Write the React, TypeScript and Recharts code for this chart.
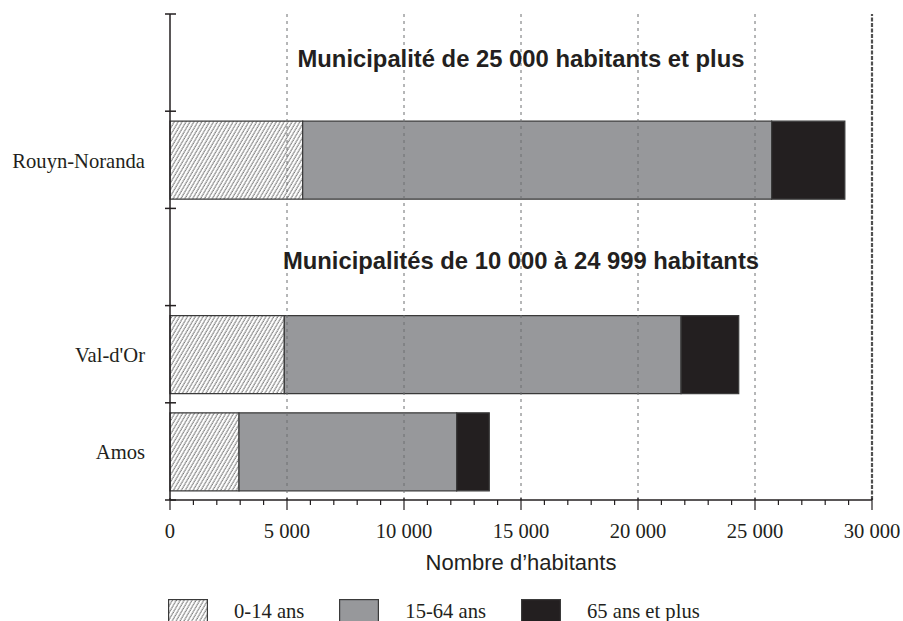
import React from 'react';
import { BarChart, Bar, XAxis, YAxis, ReferenceLine } from 'recharts';

// rows top to bottom; the two group rows only carry a title
const categories = ['grp25', 'Rouyn-Noranda', 'grp10', "Val-d'Or", 'Amos'];
const age0to14 = [null, 5670, null, 4885, 2950];
const age15to64 = [null, 20040, null, 16955, 9300];
const age65plus = [null, 3130, null, 2465, 1395];

const groupKeys = ['grp25', 'grp10'];
const groupTitles = ['Municipalité de 25 000 habitants et plus', 'Municipalités de 10 000 à 24 999 habitants'];
const groupShift = [-4, 4];

const xMajorTicks = [0, 5000, 10000, 15000, 20000, 25000, 30000];
const xAllTicks = Array.from({ length: 31 }, (_, i) => i * 1000);

const legendItems = [
  { name: '0-14 ans', fill: 'pattern' },
  { name: '15-64 ans', fill: '#97989b' },
  { name: '65 ans et plus', fill: '#231f20' },
];

const rows = categories.map((name, i) => ({
  name,
  a: age0to14[i],
  b: age15to64[i],
  c: age65plus[i],
}));

const INK = '#231f20';
const SERIF = '"Liberation Serif", "Times New Roman", serif';
const SANS = '"Liberation Sans", Arial, sans-serif';

const fmt = (v: number) => String(v).replace(/\B(?=(\d{3})+(?!\d))/g, ' ');

const YTick = (props: any) => {
  const { x, y, payload } = props;
  const half = payload.offset ?? 48.6;
  const isLast = payload.index === categories.length - 1;
  const isGroup = groupKeys.includes(payload.value);
  return (
    <g>
      <line x1={x - 5} x2={x + 6} y1={y - half} y2={y - half} stroke={INK} strokeWidth={1.5} />
      {isLast && <line x1={x - 5} x2={x + 6} y1={y + half} y2={y + half} stroke={INK} strokeWidth={1.5} />}
      {!isGroup && (
        <text x={x - 25} y={y + 8} textAnchor="end" fontFamily={SERIF} fontSize={20.6} fill={INK}>
          {payload.value}
        </text>
      )}
    </g>
  );
};

const XTick = (props: any) => {
  const { x, y, payload } = props;
  const major = payload.value % 5000 === 0;
  return (
    <g>
      <line x1={x} x2={x} y1={y - (major ? 2 : 0)} y2={y + (major ? 10 : 5)} stroke={INK} strokeWidth={1.2} />
      {major && (
        <text x={x} y={y + 38} textAnchor="middle" fontFamily={SERIF} fontSize={20.6} fill={INK}>
          {fmt(payload.value)}
        </text>
      )}
    </g>
  );
};

const Hatch = ({ id }: { id: string }) => (
  <pattern id={id} patternUnits="userSpaceOnUse" width={3.4} height={3.4} patternTransform="rotate(30)">
    <rect width={3.4} height={3.4} fill="#ffffff" />
    <line x1={1} y1={0} x2={1} y2={3.4} stroke="#4f4f4f" strokeWidth={1} strokeDasharray="1.2 0.5" />
  </pattern>
);

export default function App() {
  return (
    <div style={{ position: 'absolute', left: 0, top: 0, width: 903, height: 621, background: '#fff' }}>
      <BarChart
        layout="vertical"
        width={903}
        height={621}
        data={rows}
        margin={{ top: 14, right: 31, bottom: 51, left: 0 }}
      >
        <defs>
          <Hatch id="hatch" />
        </defs>
        {xMajorTicks.slice(1, -1).map((v) => (
          <ReferenceLine key={v} x={v} stroke="#6d6e71" strokeDasharray="3 4" strokeWidth={1} />
        ))}
        <XAxis
          type="number"
          domain={[0, 30000]}
          ticks={xAllTicks}
          interval={0}
          tickSize={0}
          tickMargin={0}
          tick={<XTick />}
          axisLine={{ stroke: INK, strokeWidth: 1.5 }}
          height={70}
          label={{ value: 'Nombre d’habitants', position: 'insideBottom', offset: 0, fontFamily: SANS, fontSize: 22, fill: INK }}
        />
        <XAxis
          xAxisId="top"
          orientation="top"
          type="number"
          domain={[0, 30000]}
          height={0}
          tick={false}
          tickLine={false}
          axisLine={{ stroke: INK, strokeWidth: 1.5 }}
        />
        <YAxis
          type="category"
          dataKey="name"
          width={170}
          interval={0}
          tickSize={0}
          tickMargin={0}
          tick={<YTick />}
          axisLine={{ stroke: INK, strokeWidth: 1.5 }}
        />
        {groupKeys.map((k, i) => (
          <ReferenceLine
            key={k}
            y={k}
            stroke="none"
            label={{
              value: groupTitles[i],
              position: 'center',
              dy: groupShift[i],
              fontFamily: SANS,
              fontWeight: 'bold',
              fontSize: 23.8,
              fill: INK,
            }}
          />
        ))}
        <Bar dataKey="a" stackId="s" barSize={78} fill="url(#hatch)" stroke="#3a3a3a" strokeWidth={1.2} isAnimationActive={false} />
        <Bar dataKey="b" stackId="s" barSize={78} fill="#97989b" stroke="#3a3a3a" strokeWidth={1.2} isAnimationActive={false} />
        <Bar dataKey="c" stackId="s" barSize={78} fill="#231f20" stroke="#3a3a3a" strokeWidth={1.2} isAnimationActive={false} />
        <ReferenceLine x={30000} stroke="#505050" strokeDasharray="4 1.5" strokeWidth={2.2} isFront />
      </BarChart>
      <div
        style={{
          position: 'absolute',
          left: 168,
          top: 599,
          display: 'flex',
          alignItems: 'flex-start',
          fontFamily: SERIF,
          fontSize: 20.6,
          color: INK,
          lineHeight: '23px',
          whiteSpace: 'nowrap',
        }}
      >
        {legendItems.map((item, i) => (
          <div key={item.name} style={{ display: 'flex', alignItems: 'flex-start', marginRight: i < legendItems.length - 1 ? 35 : 0 }}>
            <svg width={40} height={24} style={{ marginRight: 26, display: 'block' }}>
              {item.fill === 'pattern' && (
                <defs>
                  <Hatch id="hatchLegend" />
                </defs>
              )}
              <rect
                x={0.6}
                y={0.6}
                width={38.8}
                height={23}
                fill={item.fill === 'pattern' ? 'url(#hatchLegend)' : item.fill}
                stroke="#3a3a3a"
                strokeWidth={1.2}
              />
            </svg>
            <span style={{ marginTop: 1 }}>{item.name}</span>
          </div>
        ))}
      </div>
    </div>
  );
}
